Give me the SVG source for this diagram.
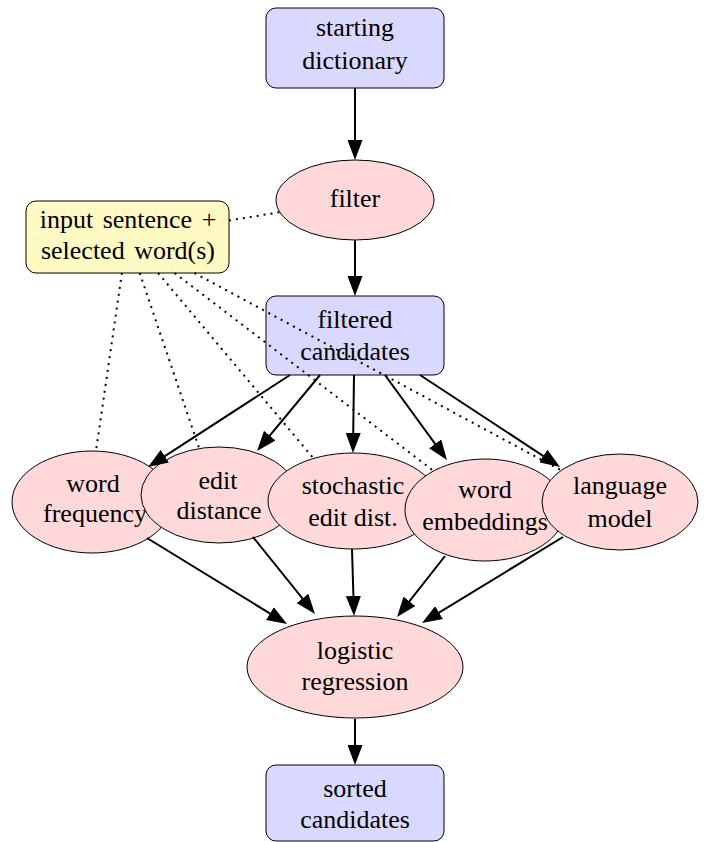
<svg xmlns="http://www.w3.org/2000/svg" width="710" height="842" viewBox="0 0 710 842">
<style>
.box{fill:#d9d9ff;stroke:#000;stroke-width:1}
.note{fill:#fff9c4;stroke:#000;stroke-width:1}
.ell{fill:#ffd9d9;stroke:#000;stroke-width:1}
text{font-family:"Liberation Serif","Times New Roman",serif;font-size:26px;text-anchor:middle;fill:#000}
.ws{word-spacing:3px}
.arr{stroke:#000;stroke-width:2;fill:none;marker-end:url(#ah)}
.dot{stroke:#000;stroke-width:2;fill:none;stroke-dasharray:2 5}
</style>
<defs>
<marker id="ah" markerUnits="userSpaceOnUse" markerWidth="20" markerHeight="15" refX="16" refY="7.5" orient="auto" viewBox="0 0 20 15">
<path d="M0,0 L20,7.5 L0,15 z" fill="#000"/>
</marker>
</defs>
<g id="starting-dictionary"><rect class="box" x="266" y="8" width="178" height="80" rx="10"/><text x="355" y="36">starting</text><text x="355" y="69">dictionary</text></g>
<g id="filter"><ellipse class="ell" cx="355" cy="200" rx="79" ry="40"/><text x="355" y="207">filter</text></g>
<g id="input"><rect class="note" x="26" y="201" width="203" height="72" rx="10"/><text class="ws" x="128" y="228">input sentence +</text><text class="ws" x="128" y="259">selected word(s)</text></g>
<g id="filtered-candidates"><rect class="box" x="266" y="296" width="178" height="79" rx="10"/><text x="355" y="328">filtered</text><text x="355" y="360">candidates</text></g>
<g id="word-frequency"><ellipse class="ell" cx="92" cy="502" rx="80" ry="51"/><text x="93" y="492">word</text><text x="95" y="522">frequency</text></g>
<g id="edit-distance"><ellipse class="ell" cx="219" cy="495" rx="78" ry="48"/><text x="218" y="489">edit</text><text x="219" y="519">distance</text></g>
<g id="stochastic-edit-dist"><ellipse class="ell" cx="353" cy="501" rx="85" ry="48"/><text x="353" y="494">stochastic</text><text x="353" y="526">edit dist.</text></g>
<g id="word-embeddings"><ellipse class="ell" cx="485" cy="510" rx="80" ry="51"/><text x="485" y="498">word</text><text x="485" y="530">embeddings</text></g>
<g id="language-model"><ellipse class="ell" cx="620" cy="502" rx="78" ry="48"/><text x="620" y="494">language</text><text x="620" y="527">model</text></g>
<g id="logistic-regression"><ellipse class="ell" cx="355" cy="667" rx="108" ry="51"/><text x="355" y="659">logistic</text><text x="355" y="690">regression</text></g>
<g id="sorted-candidates"><rect class="box" x="266" y="765" width="178" height="76" rx="10"/><text x="355" y="797">sorted</text><text x="355" y="828">candidates</text></g>
<g id="connectors">
<line class="arr" x1="355" y1="88" x2="355" y2="156"/>
<line class="arr" x1="355" y1="240" x2="355" y2="292"/>
<line class="arr" x1="290" y1="375" x2="151.4" y2="464.8"/>
<line class="arr" x1="320" y1="375" x2="259.6" y2="447.9"/>
<line class="arr" x1="354" y1="375" x2="353" y2="449"/>
<line class="arr" x1="385" y1="375" x2="444.6" y2="456.8"/>
<line class="arr" x1="420" y1="375" x2="556.7" y2="464.8"/>
<line class="arr" x1="147" y1="538" x2="283.6" y2="621.9"/>
<line class="arr" x1="253" y1="537" x2="312.5" y2="610.9"/>
<line class="arr" x1="352" y1="549" x2="353.9" y2="612"/>
<line class="arr" x1="445" y1="556" x2="399.5" y2="613.9"/>
<line class="arr" x1="563" y1="537" x2="425.4" y2="620.9"/>
<line class="arr" x1="355" y1="719" x2="355" y2="761"/>
<line class="dot" x1="229" y1="220.5" x2="279.8" y2="212.2"/>
<line class="dot" x1="121.9" y1="273" x2="96" y2="451"/>
<line class="dot" x1="139.7" y1="273" x2="199.1" y2="448.1"/>
<line class="dot" x1="158.1" y1="273" x2="313" y2="457.8"/>
<line class="dot" x1="174.6" y1="273" x2="433" y2="470.5"/>
<line class="dot" x1="194.4" y1="273" x2="561.3" y2="470.4"/>
</g>
</svg>
